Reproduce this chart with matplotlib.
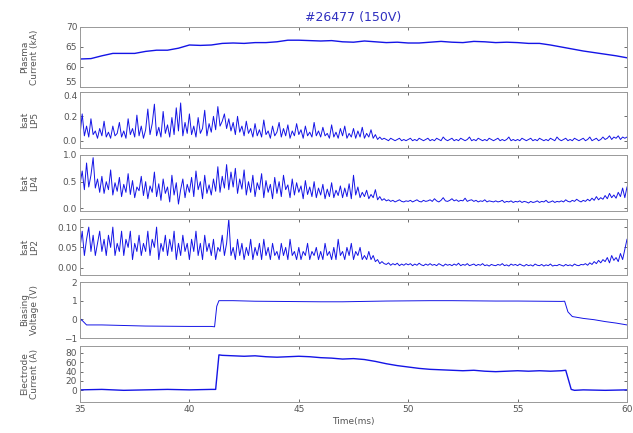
import numpy as np
import matplotlib.pyplot as plt

# time base for the sampled probe signals (0.1 ms steps)
t_fast = np.round(np.arange(35.0, 60.01, 0.1), 2)

# plasma current (kA)
ip_t = [35.0, 35.5, 36.0, 36.5, 37.0, 37.5, 38.0, 38.5, 39.0, 39.5, 40.0, 40.5, 41.0,
        41.5, 42.0, 42.5, 43.0, 43.5, 44.0, 44.5, 45.0, 45.5, 46.0, 46.5, 47.0, 47.5,
        48.0, 48.5, 49.0, 49.5, 50.0, 50.5, 51.0, 51.5, 52.0, 52.5, 53.0, 53.5, 54.0,
        54.5, 55.0, 55.5, 56.0, 56.5, 57.0, 57.5, 58.0, 58.5, 59.0, 59.5, 60.0]
ip = [62.0, 62.1, 62.8, 63.4, 63.4, 63.4, 63.9, 64.2, 64.2, 64.7, 65.5, 65.4, 65.5,
      65.9, 66.0, 65.9, 66.1, 66.1, 66.3, 66.7, 66.7, 66.6, 66.5, 66.6, 66.3, 66.2,
      66.5, 66.3, 66.1, 66.2, 66.0, 66.0, 66.2, 66.4, 66.2, 66.1, 66.4, 66.3, 66.1,
      66.2, 66.1, 65.9, 65.9, 65.5, 65.0, 64.5, 64.0, 63.6, 63.2, 62.8, 62.3]

# ion saturation current, probe LP5
lp5 = [0.05, 0.22, 0.04, 0.12, 0.03, 0.18, 0.05, 0.08, 0.02, 0.10,
       0.04, 0.16, 0.03, 0.07, 0.02, 0.12, 0.04, 0.06, 0.15, 0.03,
       0.08, 0.02, 0.18, 0.05, 0.10, 0.03, 0.21, 0.04, 0.12, 0.02,
       0.09, 0.26, 0.05, 0.14, 0.30, 0.04, 0.11, 0.03, 0.24, 0.06,
       0.13, 0.03, 0.19, 0.05, 0.27, 0.08, 0.31, 0.04, 0.15, 0.06,
       0.22, 0.05, 0.12, 0.03, 0.19, 0.06, 0.10, 0.25, 0.04, 0.14,
       0.07, 0.20, 0.09, 0.28, 0.12, 0.16, 0.22, 0.10, 0.18, 0.08,
       0.15, 0.05, 0.20, 0.07, 0.12, 0.04, 0.16, 0.06, 0.10, 0.03,
       0.14, 0.04, 0.09, 0.03, 0.17, 0.05, 0.08, 0.02, 0.12, 0.04,
       0.07, 0.15, 0.03, 0.10, 0.04, 0.13, 0.02, 0.08, 0.04, 0.14,
       0.05, 0.09, 0.02, 0.12, 0.04, 0.07, 0.03, 0.15, 0.04, 0.08,
       0.03, 0.11, 0.04, 0.06, 0.02, 0.13, 0.03, 0.07, 0.02, 0.10,
       0.04, 0.12, 0.02, 0.06, 0.03, 0.10, 0.02, 0.08, 0.03, 0.11,
       0.02, 0.06, 0.03, 0.09, 0.02, 0.05, 0.01, 0.03, 0.01, 0.02,
       0.01, 0.00, 0.02, 0.01, 0.00, 0.01, 0.02, 0.00, 0.01, 0.00,
       0.01, 0.02, 0.00, 0.01, 0.00, 0.02, 0.01, 0.00, 0.01, 0.02,
       0.00, 0.01, 0.00, 0.02, 0.01, 0.00, 0.03, 0.01, 0.00, 0.01,
       0.02, 0.00, 0.01, 0.00, 0.02, 0.01, 0.00, 0.01, 0.03, 0.00,
       0.01, 0.00, 0.02, 0.01, 0.00, 0.01, 0.00, 0.02, 0.01, 0.00,
       0.01, 0.02, 0.00, 0.01, 0.00, 0.01, 0.03, 0.00, 0.01, 0.00,
       0.01, 0.00, 0.02, 0.01, 0.00, 0.01, 0.02, 0.00, 0.01, 0.00,
       0.02, 0.01, 0.00, 0.01, 0.00, 0.02, 0.01, 0.00, 0.03, 0.01,
       0.00, 0.01, 0.02, 0.00, 0.01, 0.00, 0.02, 0.01, 0.00, 0.01,
       0.02, 0.00, 0.01, 0.03, 0.00, 0.01, 0.02, 0.00, 0.01, 0.03,
       0.01, 0.02, 0.04, 0.01, 0.03, 0.02, 0.04, 0.01, 0.03, 0.02,
       0.03]

# ion saturation current, probe LP4
lp4 = [0.45, 0.70, 0.35, 0.85, 0.40, 0.62, 0.95, 0.38, 0.55, 0.30,
       0.60, 0.28, 0.50, 0.35, 0.72, 0.25, 0.48, 0.32, 0.58, 0.22,
       0.45, 0.30, 0.65, 0.26, 0.52, 0.20, 0.40, 0.33, 0.60, 0.24,
       0.50, 0.18, 0.42, 0.30, 0.68, 0.22, 0.46, 0.15, 0.55, 0.28,
       0.40, 0.12, 0.62, 0.25, 0.48, 0.08, 0.35, 0.55, 0.20, 0.45,
       0.30, 0.58, 0.22, 0.70, 0.35, 0.50, 0.18, 0.62, 0.28, 0.44,
       0.25, 0.55, 0.32, 0.78, 0.30, 0.60, 0.38, 0.82, 0.35, 0.68,
       0.40, 0.75, 0.28, 0.55, 0.36, 0.72, 0.25, 0.50, 0.30, 0.62,
       0.22, 0.48, 0.35, 0.65, 0.20, 0.52, 0.30, 0.45, 0.18, 0.58,
       0.28, 0.50, 0.22, 0.62, 0.35, 0.44, 0.20, 0.55, 0.25, 0.48,
       0.30, 0.42, 0.18, 0.52, 0.26, 0.40, 0.22, 0.50, 0.20, 0.38,
       0.25, 0.45, 0.18, 0.36, 0.22, 0.48, 0.20, 0.34, 0.24, 0.42,
       0.20, 0.38, 0.22, 0.46, 0.18, 0.62, 0.25, 0.40, 0.20, 0.30,
       0.22, 0.34, 0.18, 0.26, 0.20, 0.35, 0.16, 0.22, 0.15, 0.18,
       0.14, 0.16, 0.13, 0.15, 0.12, 0.14, 0.16, 0.13, 0.12, 0.14,
       0.13, 0.15, 0.12, 0.14, 0.16, 0.13, 0.12, 0.15, 0.13, 0.14,
       0.16, 0.13, 0.18, 0.14, 0.12, 0.15, 0.20, 0.14, 0.13, 0.15,
       0.18, 0.14, 0.16, 0.13, 0.15, 0.14, 0.19, 0.13, 0.15, 0.16,
       0.13, 0.15, 0.12, 0.14, 0.13, 0.16, 0.12, 0.14, 0.13, 0.12,
       0.14, 0.12, 0.13, 0.15, 0.11, 0.13, 0.12, 0.14, 0.11, 0.13,
       0.12, 0.14, 0.11, 0.13, 0.12, 0.10, 0.13, 0.11, 0.12, 0.14,
       0.11, 0.13, 0.12, 0.15, 0.11, 0.12, 0.14, 0.11, 0.13, 0.12,
       0.14, 0.12, 0.16, 0.13, 0.12, 0.15, 0.13, 0.17, 0.14, 0.12,
       0.15, 0.13, 0.17, 0.14, 0.19, 0.15, 0.22, 0.16, 0.20, 0.17,
       0.24, 0.18, 0.28, 0.20, 0.25, 0.19, 0.30, 0.22, 0.38, 0.20,
       0.40]

# ion saturation current, probe LP2
lp2 = [0.05, 0.09, 0.03, 0.07, 0.10, 0.04, 0.08, 0.03, 0.06, 0.09,
       0.04, 0.07, 0.03, 0.08, 0.05, 0.10, 0.03, 0.06, 0.04, 0.09,
       0.03, 0.07, 0.05, 0.09, 0.02, 0.06, 0.04, 0.08, 0.03, 0.06,
       0.04, 0.09, 0.03, 0.07, 0.05, 0.10, 0.02, 0.06, 0.04, 0.08,
       0.03, 0.07, 0.04, 0.09, 0.02, 0.06, 0.03, 0.08, 0.04, 0.06,
       0.02, 0.07, 0.04, 0.09, 0.03, 0.06, 0.02, 0.08, 0.04, 0.06,
       0.03, 0.07, 0.02, 0.05, 0.04, 0.08, 0.03, 0.06, 0.12, 0.03,
       0.05, 0.02, 0.07, 0.03, 0.06, 0.02, 0.05, 0.03, 0.07, 0.02,
       0.05, 0.03, 0.06, 0.02, 0.07, 0.03, 0.05, 0.02, 0.06, 0.03,
       0.04, 0.02, 0.06, 0.03, 0.05, 0.02, 0.07, 0.03, 0.04, 0.02,
       0.05, 0.02, 0.04, 0.03, 0.06, 0.02, 0.04, 0.03, 0.05, 0.02,
       0.04, 0.02, 0.06, 0.03, 0.04, 0.02, 0.05, 0.02, 0.07, 0.03,
       0.04, 0.02, 0.05, 0.03, 0.06, 0.02, 0.04, 0.03, 0.05, 0.02,
       0.03, 0.02, 0.04, 0.02, 0.03, 0.015, 0.02, 0.01, 0.015, 0.01,
       0.008, 0.012, 0.006, 0.010, 0.007, 0.011, 0.005, 0.009, 0.006, 0.010,
       0.007, 0.010, 0.005, 0.009, 0.006, 0.011, 0.007, 0.005, 0.009, 0.006,
       0.010, 0.006, 0.008, 0.005, 0.010, 0.007, 0.004, 0.009, 0.006, 0.008,
       0.005, 0.009, 0.006, 0.011, 0.005, 0.008, 0.006, 0.010, 0.005, 0.007,
       0.009, 0.005, 0.008, 0.006, 0.010, 0.005, 0.007, 0.004, 0.008, 0.006,
       0.005, 0.008, 0.006, 0.010, 0.005, 0.007, 0.004, 0.009, 0.006, 0.008,
       0.005, 0.009, 0.006, 0.004, 0.008, 0.005, 0.007, 0.004, 0.009, 0.006,
       0.005, 0.008, 0.004, 0.007, 0.005, 0.009, 0.004, 0.006, 0.005, 0.008,
       0.006, 0.004, 0.008, 0.005, 0.007, 0.004, 0.009, 0.006, 0.005, 0.008,
       0.007, 0.010, 0.006, 0.012, 0.008, 0.015, 0.010, 0.018, 0.012, 0.020,
       0.015, 0.025, 0.012, 0.030, 0.018, 0.025, 0.015, 0.035, 0.020, 0.045,
       0.070]

# biasing voltage
vb_t = [35.0, 35.05, 35.3, 36.0, 37.0, 38.0, 39.0, 40.0, 41.0, 41.15, 41.25, 41.35,
        42.0, 43.0, 44.0, 45.0, 46.0, 47.0, 48.0, 49.0, 50.0, 51.0, 52.0, 53.0,
        54.0, 55.0, 56.0, 57.0, 57.15, 57.3, 57.5, 58.0, 58.5, 59.0, 59.5, 60.0]
vb = [-0.2, 0.0, -0.3, -0.3, -0.33, -0.36, -0.37, -0.38, -0.38, -0.4, 0.7, 1.0,
      1.0, 0.97, 0.96, 0.95, 0.94, 0.94, 0.96, 0.98, 0.99, 1.0, 1.0, 0.99,
      0.98, 0.98, 0.97, 0.96, 0.97, 0.4, 0.15, 0.05, -0.02, -0.12, -0.2, -0.3]

# electrode current (A)
ie_t = [35.0, 36.0, 37.0, 38.0, 39.0, 40.0, 41.0, 41.2, 41.35, 41.5, 42.0, 42.5,
        43.0, 43.5, 44.0, 44.5, 45.0, 45.5, 46.0, 46.5, 47.0, 47.5, 48.0, 48.5,
        49.0, 49.5, 50.0, 50.5, 51.0, 51.5, 52.0, 52.5, 53.0, 53.5, 54.0, 54.5,
        55.0, 55.5, 56.0, 56.5, 57.0, 57.2, 57.45, 57.6, 58.0, 59.0, 60.0]
ie = [1.0, 2.0, 0.0, 1.0, 2.0, 1.0, 2.0, 2.0, 76.0, 75.0, 74.0, 73.0,
      74.0, 72.0, 71.0, 72.0, 73.0, 72.0, 70.0, 69.0, 67.0, 68.0, 66.0, 62.0,
      57.0, 53.0, 50.0, 47.0, 45.0, 44.0, 43.0, 42.0, 43.0, 41.0, 40.0, 41.0,
      42.0, 41.0, 42.0, 41.0, 42.0, 43.0, 2.0, 0.0, 1.0, 0.0, 1.0]

ylabels = ["Plasma\nCurrent (kA)", "Isat\nLP5", "Isat\nLP4", "Isat\nLP2",
           "Biasing\nVoltage (V)", "Electrode\nCurrent (A)"]
yticks = [[55, 60, 65, 70], [0, 0.2, 0.4], [0, 0.5, 1], [0, 0.05, 0.1],
          [-1, 0, 1, 2], [0, 20, 40, 60, 80]]
ylims = [(55, 70), (-0.06, 0.4), (-0.05, 1.0), (-0.018, 0.12), (-1, 2), (-25, 95)]

series = [(ip_t, ip), (t_fast, lp5), (t_fast, lp4), (t_fast, lp2), (vb_t, vb), (ie_t, ie)]

# panel extents in pixels (top, bottom) on a 633x433 canvas
W, H = 633, 433
boxes = [(27, 87), (92, 148), (155, 211), (219, 275), (282, 338), (346, 402)]
left, right = 80, 627

fig = plt.figure(figsize=(W / 100, H / 100), dpi=100)
tick_col = "#555555"
line_col = "#1414e6"

axes = []
for i, (top, bot) in enumerate(boxes):
    ax = fig.add_axes([left / W, 1 - bot / H, (right - left) / W, (bot - top) / H])
    x, y = series[i]
    lw = 1.0 if i in (0, 5) else 0.7
    ax.plot(x, y, color=line_col, lw=lw)
    ax.set_xlim(35, 60)
    ax.set_ylim(*ylims[i])
    ax.set_yticks(yticks[i])
    ax.set_xticks([35, 40, 45, 50, 55, 60])
    ax.tick_params(direction="in", length=2.5, width=0.6, top=True, right=True,
                   labelsize=6.5, colors=tick_col, pad=2)
    for s in ax.spines.values():
        s.set_color("#999999")
        s.set_linewidth(0.7)
    if i < 5:
        ax.set_xticklabels([])
    ax.set_ylabel(ylabels[i], fontsize=6.5, color="#555555", linespacing=1.1)
    ax.yaxis.set_label_coords(-0.075, 0.5)
    axes.append(ax)

# keep the touching end labels of the first two panels apart
axes[0].get_yticklabels()[0].set_va("bottom")
axes[1].get_yticklabels()[-1].set_va("top")

axes[0].set_title("#26477 (150V)", fontsize=9, color="#3030c0", pad=4)
axes[-1].set_xlabel("Time(ms)", fontsize=6.5, color="#555555", labelpad=2)

fig.savefig("out.png", dpi=100)
